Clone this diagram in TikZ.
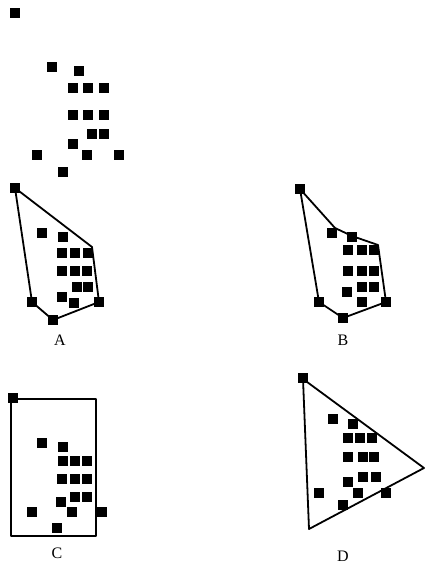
\documentclass[tikz,border=0pt]{standalone}
\usepackage{fontspec}
\setmainfont{Liberation Serif}
\begin{document}
\begin{tikzpicture}[x=1pt,y=-1pt,
  sq/.style={fill=black,draw=none,minimum size=10.5pt,inner sep=0pt,outer sep=0pt,rectangle},
  hull/.style={draw=black,line width=1.8pt,line join=round},
  lab/.style={font=\fontsize{16}{16}\selectfont,inner sep=0pt}]
\useasboundingbox (0,0) rectangle (425,564);
% ---- top: raw points
\foreach \x/\y [count=\i] in {15/13,52/67,79/71,73/88,88/88,104/88,73/115,88/115,104/115,92/134,104/134,73/144,37/155,87/155,119/155,63/172}
  \node[sq] (p\i) at (\x,\y) {};
% ---- A
\coordinate (a1) at (15,188);
\coordinate (a2) at (92,247);
\coordinate (a3) at (99,302);
\coordinate (a4) at (53,320);
\coordinate (a5) at (32,302);
\draw[hull] (a1) -- (a2) -- (a3) -- (a4) -- (a5) -- cycle;
\foreach \x/\y [count=\i] in {15/188,42/233,63/237,62/253,75/253,88/253,62/271,75/271,87/271,77/287,88/287,62/297,74/303,32/302,99/302,53/320}
  \node[sq] (qa\i) at (\x,\y) {};
\node[lab] (la) at (60,340) {A};
% ---- B
\coordinate (b1) at (300,189);
\coordinate (b2) at (335,228);
\coordinate (b3) at (352,236);
\coordinate (b4) at (378,245);
\coordinate (b5) at (386,302);
\coordinate (b6) at (343,318);
\coordinate (b7) at (319,302);
\draw[hull] (b1) -- (b2) -- (b3) -- (b4) -- (b5) -- (b6) -- (b7) -- cycle;
\foreach \x/\y [count=\i] in {300/189,332/233,352/237,348/250,362/250,374/250,348/271,362/271,374/271,362/287,374/287,347/292,362/302,319/302,386/302,343/318}
  \node[sq] (qb\i) at (\x,\y) {};
\node[lab] (lb) at (343,340) {B};
% ---- C
\coordinate (c1) at (11,399);
\coordinate (c2) at (96,536);
\draw[hull] (c1) rectangle (c2);
\foreach \x/\y [count=\i] in {13/398,42/443,63/447,63/461,75/461,87/461,62/479,75/479,87/479,75/497,87/497,61/502,72/512,32/512,102/512,57/528}
  \node[sq] (qc\i) at (\x,\y) {};
\node[lab] (lc) at (57,553) {C};
% ---- D
\coordinate (d1) at (303,379);
\coordinate (d2) at (424,468);
\coordinate (d3) at (309,529);
\draw[hull] (d1) -- (d2) -- (d3) -- cycle;
\foreach \x/\y [count=\i] in {303/378,333/419,353/424,348/438,360/438,372/438,348/457,363/457,374/457,363/477,376/477,348/482,358/493,319/493,386/493,343/505}
  \node[sq] (qd\i) at (\x,\y) {};
\node[lab] (ld) at (343,556) {D};
\end{tikzpicture}
\end{document}
